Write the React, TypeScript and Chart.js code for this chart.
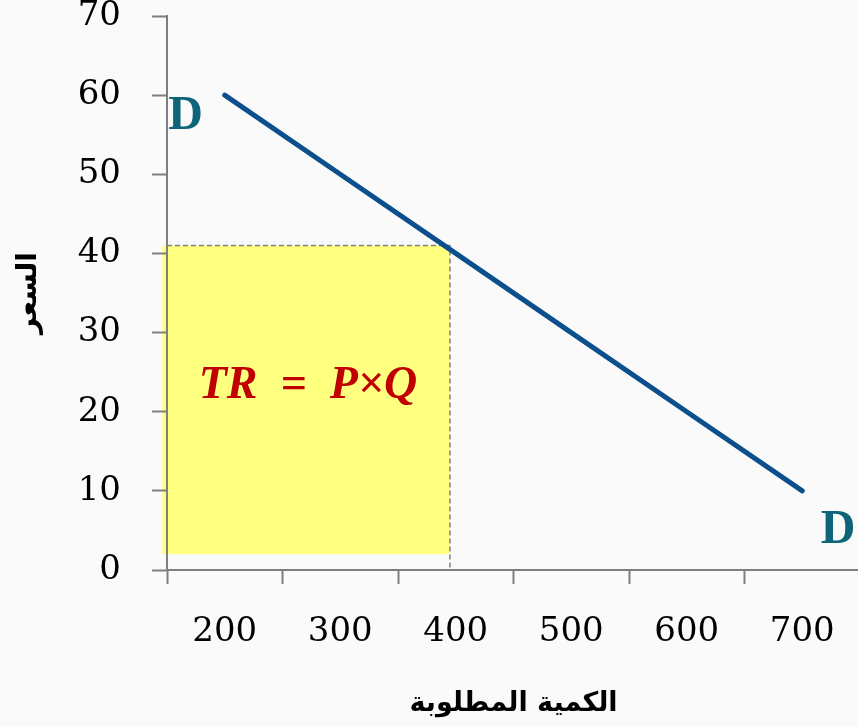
import React, { useEffect, useRef } from "react";
import { Chart, registerables } from "chart.js";

Chart.register(...registerables);

// ---- data ----
const quantities = ["200", "300", "400", "500", "600", "700"];
const prices = [60, 50, 40, 30, 20, 10];
const yTicks = [0, 10, 20, 30, 40, 50, 60, 70];
const xTitle = "الكمية المطلوبة";
const yTitle = "السعر";
const formula = "TR\u2002=\u2002P×Q";
// revenue rectangle (quantity range, price range)
const rectQ = [146, 395];
const rectP = [2, 41];
// demand curve labels: [quantity, price]
const dLabelLeft = [166, 57.3];
const dLabelRight = [731, 5];
const formulaPos = [272, 23.2];

const qToIndex = (q: number) => (q - 200) / 100;

const W = 858;
const H = 727;
const CW = 860;

export default function App() {
  const ref = useRef<HTMLCanvasElement | null>(null);
  useEffect(() => {
    if (!ref.current) return;
    const overlay = {
      id: "overlay",
      beforeDraw(chart: any) {
        const { ctx, scales } = chart;
        const x = scales.x;
        const y = scales.y;
        ctx.save();
        ctx.fillStyle = "#fafafa";
        ctx.fillRect(0, 0, chart.width, chart.height);
        const x0 = x.getPixelForValue(qToIndex(rectQ[0]));
        const x1 = x.getPixelForValue(qToIndex(rectQ[1]));
        const y0 = y.getPixelForValue(rectP[0]);
        const y1 = y.getPixelForValue(rectP[1]);
        ctx.fillStyle = "#ffff80";
        ctx.fillRect(x0, y1, x1 - x0, y0 - y1);
        ctx.strokeStyle = "#808080";
        ctx.lineWidth = 1.5;
        ctx.setLineDash([5, 3]);
        ctx.beginPath();
        ctx.moveTo(chart.chartArea.left, y1);
        ctx.lineTo(x1, y1);
        ctx.lineTo(x1, y.getPixelForValue(0));
        ctx.stroke();
        ctx.restore();
      },
      afterDraw(chart: any) {
        const { ctx, scales } = chart;
        const x = scales.x;
        const y = scales.y;
        ctx.save();
        ctx.textAlign = "center";
        ctx.textBaseline = "middle";
        ctx.fillStyle = "#0e6479";
        ctx.font = "bold 48px 'Liberation Serif'";
        ctx.fillText("D", x.getPixelForValue(qToIndex(dLabelLeft[0])), y.getPixelForValue(dLabelLeft[1]));
        ctx.fillText("D", x.getPixelForValue(qToIndex(dLabelRight[0])), y.getPixelForValue(dLabelRight[1]));
        ctx.fillStyle = "#c00000";
        ctx.font = "italic bold 46px 'Liberation Serif'";
        ctx.fillText(formula, x.getPixelForValue(qToIndex(formulaPos[0])), y.getPixelForValue(formulaPos[1]));
        ctx.restore();
      },
    };
    const chart = new Chart(ref.current, {
      type: "line",
      data: {
        labels: quantities,
        datasets: [
          {
            data: prices,
            borderColor: "#0b4f8c",
            borderWidth: 5,
            borderCapStyle: "round",
            pointRadius: 0,
            tension: 0,
          },
        ],
      },
      options: {
        responsive: false,
        animation: false,
        layout: { padding: { top: 16, left: 0, right: 0, bottom: 0 } },
        plugins: { legend: { display: false }, tooltip: { enabled: false } },
        scales: {
          x: {
            type: "category",
            offset: true,
            grid: {
              offset: true,
              drawOnChartArea: false,
              tickLength: 14,
              tickColor: "#7f7f7f",
              tickWidth: 2,
            },
            border: { color: "#7f7f7f", width: 2 },
            ticks: {
              color: "#000",
              padding: 28,
              maxRotation: 0,
              font: { family: "'DejaVu Serif'", size: 34 },
            },
            title: {
              display: true,
              text: xTitle,
              color: "#000",
              font: { family: "'DejaVu Sans'", size: 27, weight: "bold" },
              padding: { top: 0, bottom: 7 },
            },
            afterFit: (s: any) => {
              s.height = 157;
              s.paddingLeft = 0;
              s.paddingRight = 0;
            },
          },
          y: {
            min: 0,
            max: 70,
            afterBuildTicks: (s: any) => {
              s.ticks = yTicks.map((v) => ({ value: v }));
            },
            grid: {
              drawOnChartArea: false,
              tickLength: 15,
              tickColor: "#7f7f7f",
              tickWidth: 2,
            },
            border: { color: "#7f7f7f", width: 2 },
            ticks: {
              color: "#000",
              padding: 31,
              font: { family: "'DejaVu Serif'", size: 34 },
            },
            title: {
              display: true,
              text: yTitle,
              color: "#000",
              font: { family: "'DejaVu Sans'", size: 28, weight: "bold" },
              padding: { top: 12, bottom: 0 },
            },
            afterFit: (s: any) => {
              s.width = 167;
              s.paddingTop = 0;
              s.paddingBottom = 0;
            },
          },
        },
      },
      plugins: [overlay],
    } as any);
    return () => chart.destroy();
  }, []);
  return (
    <div style={{ position: "absolute", left: 0, top: 0, width: W, height: H, overflow: "hidden" }}>
      <canvas ref={ref} width={CW} height={H} style={{ width: CW, height: H, display: "block" }} />
    </div>
  );
}
